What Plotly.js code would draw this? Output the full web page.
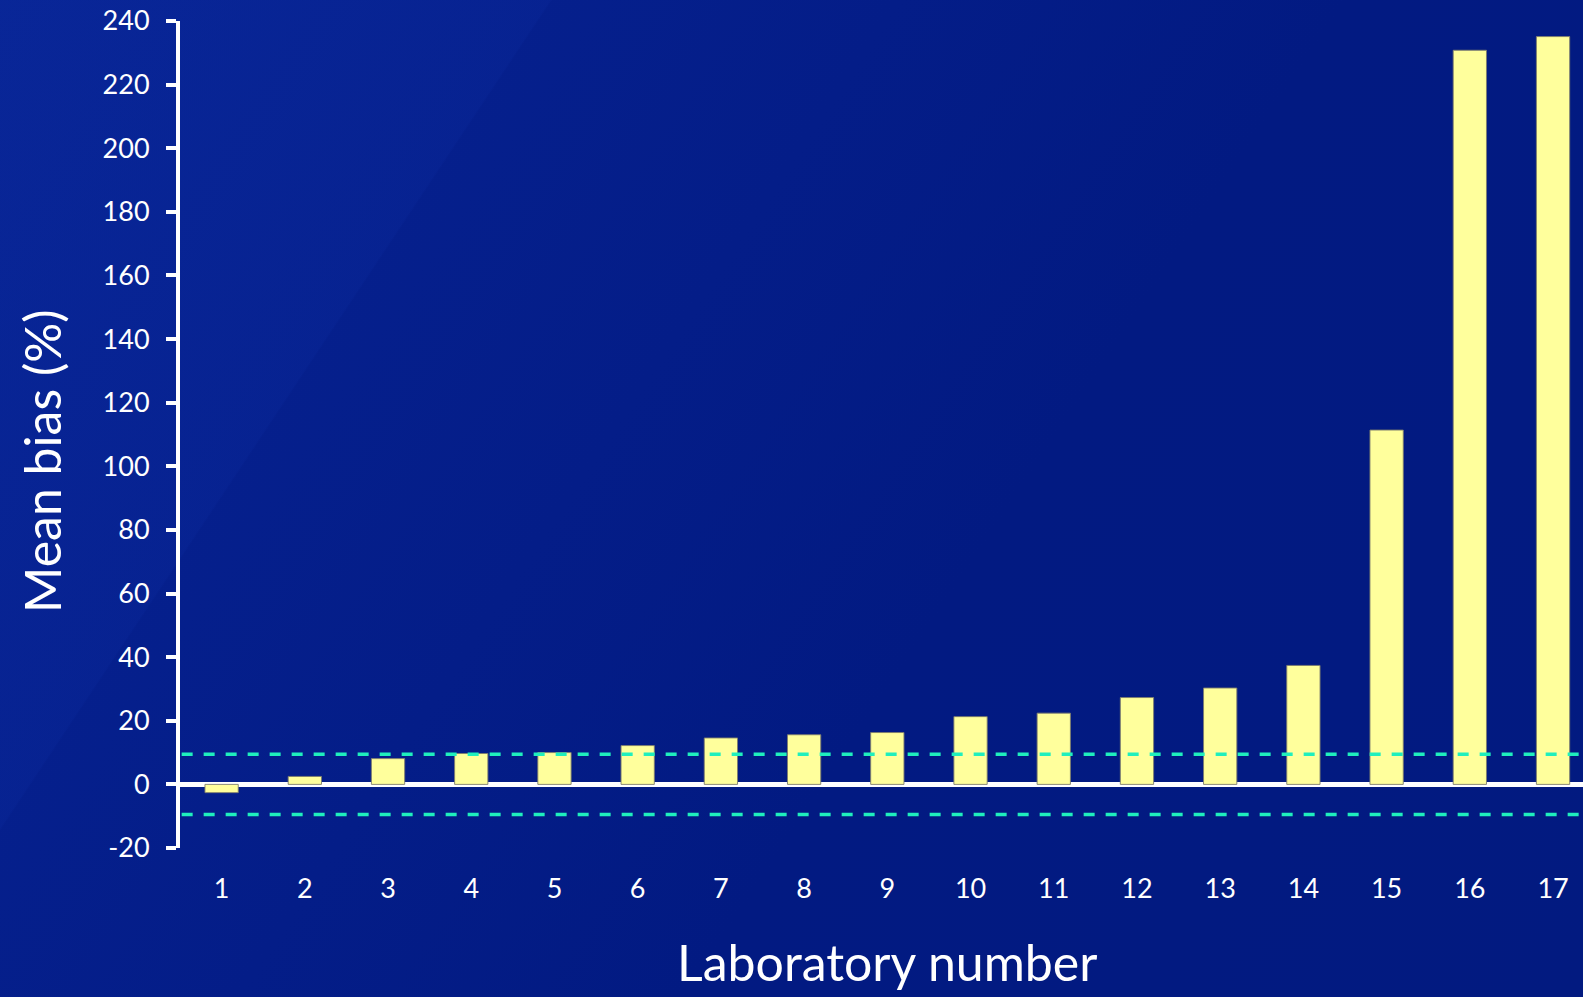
<!DOCTYPE html>
<html>
<head>
<meta charset="utf-8">
<script src="https://cdn.plot.ly/plotly-3.0.1.min.js"></script>
<style>
  html, body { margin: 0; padding: 0; width: 1583px; height: 997px; overflow: hidden; }
  body {
    background:
      linear-gradient(123.6deg, rgba(12,44,160,0.35) 0%, rgba(10,40,155,0.35) 24.5%, rgba(0,0,0,0) 24.6%, rgba(0,0,0,0) 100%),
      linear-gradient(123.6deg, #072393 0%, #041d88 40%, #021a82 60%, #021a80 100%);
  }
  #chart { width: 1583px; height: 997px; }
</style>
</head>
<body>
<div id="chart"></div>
<script>
// Mean bias per laboratory
const labs = [1, 2, 3, 4, 5, 6, 7, 8, 9, 10, 11, 12, 13, 14, 15, 16, 17];
const labLabels = ['1', '2', '3', '4', '5', '6', '7', '8', '9', '10', '11', '12', '13', '14', '15', '16', '17'];
const meanBias = [-2.6, 2.5, 8.1, 9.7, 10.0, 12.2, 14.6, 15.6, 16.3, 21.3, 22.4, 27.3, 30.3, 37.4, 111.4, 230.8, 235.1];

// Acceptance limits (dashed lines)
const upperLimit = [9.5, 9.5];
const lowerLimit = [-9.5, -9.5];

// Axis ticks
const yTicks = [-20, 0, 20, 40, 60, 80, 100, 120, 140, 160, 180, 200, 220, 240];
const yTickLabels = ['-20', '0', '20', '40', '60', '80', '100', '120', '140', '160', '180', '200', '220', '240'];
const yRange = [-20, 240];
const xRange = [0.5, 17.36];

const W = 1583, H = 997;
const margin = { l: 180, r: 0, t: 21, b: 149 };
const plotW = W - margin.l - margin.r;
const plotH = H - margin.t - margin.b;
const pxX = px => (px - margin.l) / plotW;
const pxY = py => (H - margin.b - py) / plotH;

const font = "Lato, 'Open Sans', 'DejaVu Sans', sans-serif";
const limitX = [xRange[0] + 0.02, xRange[1]];

const traces = [
  {
    type: 'bar',
    x: labs,
    y: meanBias,
    marker: { color: '#FFFF9C', line: { color: 'rgba(125,125,110,0.9)', width: 1 } },
    hoverinfo: 'x+y'
  },
  {
    type: 'scatter', mode: 'lines',
    x: limitX, y: upperLimit,
    line: { color: '#1FEFBD', width: 3.5, dash: '11px,11px' },
    hoverinfo: 'skip'
  },
  {
    type: 'scatter', mode: 'lines',
    x: limitX, y: lowerLimit,
    line: { color: '#1FEFBD', width: 3.5, dash: '11px,11px' },
    hoverinfo: 'skip'
  }
];

const layout = {
  width: W, height: H,
  margin: margin,
  paper_bgcolor: 'rgba(0,0,0,0)',
  plot_bgcolor: 'rgba(0,0,0,0)',
  showlegend: false,
  bargap: 0.6,
  font: { family: font, color: '#FFFFFF' },
  xaxis: {
    range: xRange,
    tickmode: 'array', tickvals: labs, ticktext: labLabels,
    ticks: '', showline: false, showgrid: false, zeroline: false,
    tickfont: { family: font, size: 27, color: '#FFFFFF' },
    ticklabelstandoff: 22,
    fixedrange: true
  },
  yaxis: {
    range: yRange,
    tickmode: 'array', tickvals: yTicks, ticktext: yTickLabels,
    ticks: 'outside', ticklen: 10, tickwidth: 4, tickcolor: '#FFFFFF',
    showline: true, linecolor: '#FFFFFF', linewidth: 4,
    showgrid: false,
    zeroline: true, zerolinecolor: '#FFFFFF', zerolinewidth: 5,
    tickfont: { family: font, size: 27, color: '#FFFFFF' },
    ticklabelstandoff: 11,
    fixedrange: true
  },
  annotations: [
    {
      text: 'Mean bias (%)',
      xref: 'paper', yref: 'paper',
      x: pxX(42), y: pxY(461),
      xanchor: 'center', yanchor: 'middle',
      textangle: -90, showarrow: false,
      font: { family: font, size: 50, color: '#FFFFFF' }
    },
    {
      text: 'Laboratory number',
      xref: 'paper', yref: 'paper',
      x: pxX(887), y: pxY(962),
      xanchor: 'center', yanchor: 'middle',
      showarrow: false,
      font: { family: font, size: 50, color: '#FFFFFF' }
    }
  ]
};

Plotly.newPlot('chart', traces, layout, { displayModeBar: false, staticPlot: true });
</script>
</body>
</html>
